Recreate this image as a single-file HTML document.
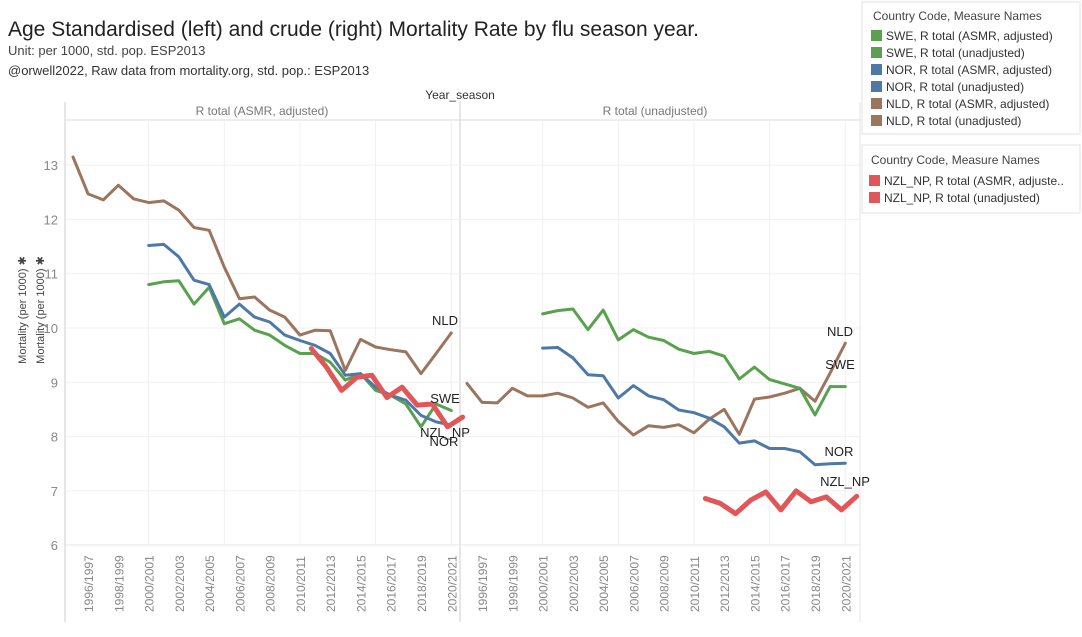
<!DOCTYPE html>
<html><head><meta charset="utf-8">
<style>
body{margin:0;width:1082px;height:632px;background:#fff;overflow:hidden;font-family:"Liberation Sans",sans-serif;}
svg text{font-family:"Liberation Sans",sans-serif;}
</style></head>
<body>
<svg id="chart" width="1082" height="632" viewBox="0 0 1082 632">
<text x="8" y="36" font-size="21" fill="#222">Age Standardised (left) and crude (right) Mortality Rate by flu season year.</text>
<text x="8" y="55" font-size="13" fill="#444">Unit: per 1000, std. pop. ESP2013</text>
<text x="8" y="75" font-size="13" fill="#333">@orwell2022,  Raw data from mortality.org, std. pop.: ESP2013</text>
<text x="460" y="99" font-size="12" fill="#333" text-anchor="middle">Year_season</text>
<text x="262" y="115" font-size="12" fill="#777" text-anchor="middle">R total (ASMR, adjusted)</text>
<text x="655" y="115" font-size="12" fill="#777" text-anchor="middle">R total (unadjusted)</text>
<line x1="65" y1="102" x2="65" y2="622" stroke="#ccc"/>
<line x1="65" y1="120" x2="860" y2="120" stroke="#ddd"/>
<line x1="460" y1="102" x2="460" y2="622" stroke="#ccc"/>
<line x1="860" y1="102" x2="860" y2="622" stroke="#e5e5e5"/>
<line x1="65" y1="545" x2="860" y2="545" stroke="#ddd"/>
<g transform="rotate(-90)">
<text x="-310" y="26" font-size="11" fill="#444" text-anchor="middle">Mortality (per 1000) ✱</text>
<text x="-310" y="44" font-size="11" fill="#444" text-anchor="middle">Mortality (per 1000) ✱</text>
</g>
<g id="grid"></g><g id="ticks"></g><g id="lines"></g><g id="labels"></g>
<g>
<rect x="862" y="2" width="218" height="132" fill="#fff" stroke="#e3e3e3"/>
<text x="873" y="20" font-size="12" fill="#444">Country Code, Measure Names</text>
</g>
<g>
<rect x="862" y="145" width="218" height="68" fill="#fff" stroke="#e3e3e3"/>
<text x="871" y="164" font-size="12" fill="#444">Country Code, Measure Names</text>
</g>
<g id="legend"></g>
</svg>
<script>
const seasons = ["1995/1996","1996/1997","1997/1998","1998/1999","1999/2000","2000/2001","2001/2002","2002/2003","2003/2004","2004/2005","2005/2006","2006/2007","2007/2008","2008/2009","2009/2010","2010/2011","2011/2012","2012/2013","2013/2014","2014/2015","2015/2016","2016/2017","2017/2018","2018/2019","2019/2020","2020/2021"];
const yTicks = [6,7,8,9,10,11,12,13];
const nldAdj = [13.15,12.47,12.36,12.63,12.38,12.31,12.34,12.17,11.85,11.80,11.12,10.54,10.57,10.33,10.2,9.87,9.96,9.95,9.22,9.79,9.65,9.6,9.56,9.16,9.53,9.91];
const norAdj = [null,null,null,null,null,11.52,11.54,11.31,10.88,10.8,10.2,10.44,10.2,10.11,9.87,9.77,9.68,9.53,9.13,9.16,8.91,8.76,8.67,8.39,8.27,8.21];
const sweAdj = [null,null,null,null,null,10.8,10.85,10.87,10.44,10.75,10.08,10.17,9.96,9.87,9.68,9.53,9.53,9.37,9.04,9.16,8.85,8.76,8.6,8.18,8.6,8.48];
const nzlAdj = [9.62,9.28,8.85,9.09,9.13,8.72,8.91,8.58,8.6,8.18,8.36];
const nldRaw = [8.98,8.63,8.62,8.89,8.75,8.75,8.8,8.71,8.54,8.62,8.28,8.03,8.2,8.17,8.22,8.07,8.32,8.5,8.04,8.69,8.73,8.8,8.89,8.65,9.17,9.72];
const norRaw = [null,null,null,null,null,9.63,9.64,9.45,9.14,9.12,8.71,8.94,8.75,8.68,8.49,8.44,8.34,8.18,7.88,7.92,7.78,7.78,7.72,7.48,7.5,7.51];
const sweRaw = [null,null,null,null,null,10.26,10.32,10.35,9.97,10.33,9.78,9.97,9.83,9.77,9.61,9.53,9.57,9.48,9.06,9.28,9.05,8.97,8.89,8.4,8.92,8.92];
const nzlRaw = [6.86,6.77,6.58,6.83,6.98,6.65,7.0,6.8,6.89,6.65,6.9];
const nzlStart = 15.75;

const NS="http://www.w3.org/2000/svg";
const STEP=15.13;
function xL(i){return 73+i*STEP;}
function xR(i){return 467+i*STEP;}
function y(v){return 328-(v-10)*54.3;}
function mk(tag,attrs,parent){const e=document.createElementNS(NS,tag);for(const k in attrs)e.setAttribute(k,attrs[k]);parent.appendChild(e);return e;}
const grid=document.getElementById('grid'),ticks=document.getElementById('ticks'),lines=document.getElementById('lines'),labels=document.getElementById('labels');
yTicks.forEach(t=>{
  const l=mk('line',{x1:66,x2:860,y1:y(t),y2:y(t),stroke:'#f0f0f0'},grid);
  
  
  const tx=mk('text',{x:58,y:y(t)+5,'font-size':13,fill:'#888','text-anchor':'end'},ticks);
  tx.textContent=t;
  
  
});
[5,10,15,20,25].forEach(i=>{
  mk('line',{x1:xL(i),x2:xL(i),y1:121,y2:544,stroke:'#f0f0f0'},grid);
  mk('line',{x1:xR(i),x2:xR(i),y1:121,y2:544,stroke:'#f0f0f0'},grid);
});
seasons.forEach((s,i)=>{
  if(i%2!==1)return;
  [xL(i),xR(i)].forEach((x,k)=>{
    const t=mk('text',{transform:`translate(${x+5},612) rotate(-90)`,'font-size':12,fill:'#888'},ticks);
    t.textContent=s;
    
    
  });
});
function series(vals,xf,off,color,w,name){
  let d='',pen=false;
  vals.forEach((v,i)=>{
    if(v==null){pen=false;return;}
    const X=xf(i+off);
    d+=(pen?'L':'M')+X.toFixed(1)+' '+y(v).toFixed(1)+' ';pen=true;
  });
  const p=mk('path',{d:d,fill:'none',stroke:color,'stroke-width':w,'stroke-linejoin':'round','stroke-linecap':'round'},lines);
  
  
}
const G='#59a14f',B='#4e79a7',N='#9c755f',R='#e15759';
series(nldAdj,xL,0,N,3,'line-nld-adjusted');
series(sweAdj,xL,0,G,3,'line-swe-adjusted');
series(norAdj,xL,0,B,3,'line-nor-adjusted');
series(nzlAdj,xL,nzlStart,R,5,'line-nzl-adjusted');
series(nldRaw,xR,0,N,3,'line-nld-unadjusted');
series(sweRaw,xR,0,G,3,'line-swe-unadjusted');
series(norRaw,xR,0,B,3,'line-nor-unadjusted');
series(nzlRaw,xR,nzlStart,R,5,'line-nzl-unadjusted');
[["NLD",445,325],["SWE",445,403],["NZL_NP",445,437],["NOR",444,446],["NLD",840,336],["SWE",840,369],["NOR",839,456],["NZL_NP",845,486]].forEach(a=>{
  const t=mk('text',{x:a[1],y:a[2],'font-size':13,fill:'#222','text-anchor':'middle'},labels);
  t.textContent=a[0];
  
  
});
const lg=document.getElementById('legend');
const legendItems=[["SWE, R total (ASMR, adjusted)",G,40],["SWE, R total (unadjusted)",G,57],["NOR, R total (ASMR, adjusted)",B,74],["NOR, R total (unadjusted)",B,91],["NLD, R total (ASMR, adjusted)",N,108],["NLD, R total (unadjusted)",N,125],["NZL_NP, R total (ASMR, adjuste..",R,185],["NZL_NP, R total (unadjusted)",R,202]];
legendItems.forEach((it,k)=>{
  const sx=k<6?871:869;
  const r=mk('rect',{x:sx,y:it[2]-10,width:11,height:11,fill:it[1]},lg);
  
  
  const t=mk('text',{x:sx+15,y:it[2],'font-size':12,fill:'#333'},lg);
  t.textContent=it[0];
  
  
});
</script>
</body></html>
